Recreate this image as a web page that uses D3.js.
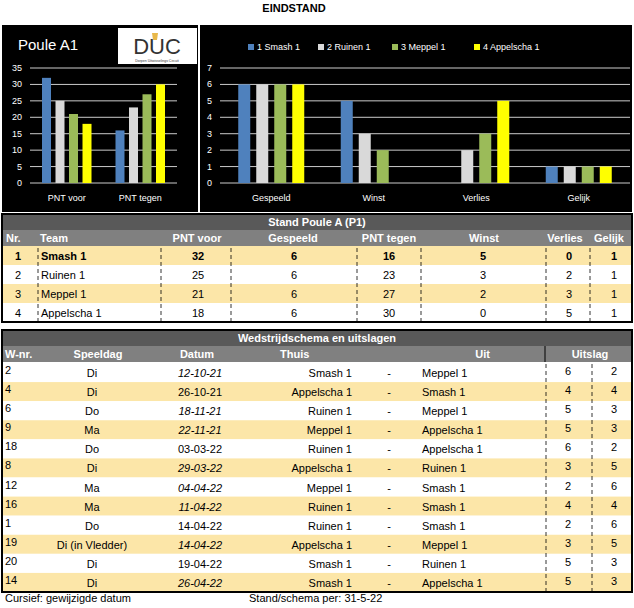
<!DOCTYPE html>
<html><head><meta charset="utf-8">
<script src="https://cdn.jsdelivr.net/npm/d3@7"></script>
<style>body{margin:0;background:#fff}svg{display:block;font-family:Arial,"Liberation Sans",sans-serif}</style>
</head><body><svg id="c" width="634" height="608"></svg>
<script>
const teams=["Smash 1","Ruinen 1","Meppel 1","Appelscha 1"];
const legendLabels=["1 Smash 1","2 Ruinen 1","3 Meppel 1","4 Appelscha 1"];
const colors=["#4f81bd","#d9d9d9","#9bbb59","#ffff00"];
const pntCats=["PNT voor","PNT tegen"];
const pntVoor=[32,25,21,18];
const pntTegen=[16,23,27,30];
const statCats=["Gespeeld","Winst","Verlies","Gelijk"];
const gespeeld=[6,6,6,6];
const winst=[5,3,2,0];
const verlies=[0,2,3,5];
const gelijk=[1,1,1,1];
const standHeaders=["Nr.","Team","PNT voor","Gespeeld","PNT tegen","Winst","Verlies","Gelijk"];
const matches=[
["2","Di","12-10-21",1,"Smash 1","Meppel 1",6,2],
["4","Di","26-10-21",0,"Appelscha 1","Smash 1",4,4],
["6","Do","18-11-21",1,"Ruinen 1","Meppel 1",5,3],
["9","Ma","22-11-21",1,"Meppel 1","Appelscha 1",5,3],
["18","Do","03-03-22",0,"Ruinen 1","Appelscha 1",6,2],
["8","Di","29-03-22",1,"Appelscha 1","Ruinen 1",3,5],
["12","Ma","04-04-22",1,"Meppel 1","Smash 1",2,6],
["16","Ma","11-04-22",1,"Ruinen 1","Smash 1",4,4],
["1","Do","14-04-22",0,"Ruinen 1","Smash 1",2,6],
["19","Di (in Vledder)","14-04-22",1,"Appelscha 1","Meppel 1",3,5],
["20","Di","19-04-22",0,"Smash 1","Ruinen 1",5,3],
["14","Di","26-04-22",1,"Smash 1","Appelscha 1",5,3]];

const svg=d3.select("#c");
svg.append("text").attr("x",294).attr("y",12).attr("text-anchor","middle").attr("font-size",11).attr("font-weight","bold").text("EINDSTAND");

svg.append("rect").attr("x",2).attr("y",25).attr("width",196).attr("height",187).attr("fill","#000");
svg.append("rect").attr("x",200).attr("y",25).attr("width",432).attr("height",187).attr("fill","#000");
svg.append("text").attr("x",18).attr("y",50).attr("fill","#fff").attr("font-size",15).text("Poule A1");
const lg=svg.append("g");
lg.append("rect").attr("x",118).attr("y",28).attr("width",79).attr("height",36).attr("fill","#fff");
lg.append("text").attr("x",157).attr("y",54).attr("text-anchor","middle").attr("font-size",22).attr("fill","#333").text("DUC");
lg.append("path").attr("d","M152,33 L158,33 L157,40 L153,40 Z").attr("fill","#e8b84a");
lg.append("text").attr("x",157).attr("y",61.5).attr("text-anchor","middle").attr("font-size",3.5).attr("fill","#333").text("Dorpen Uitwisselings Circuit");

function chart(x0,x1,max,cats,series,bw){
  const y=d3.scaleLinear().domain([0,max]).range([183,68]);
  const x=d3.scaleBand().domain(cats).range([x0,x1]);
  const g=svg.append("g");
  g.selectAll("line.g").data(y.ticks(7)).join("line").attr("x1",x0).attr("x2",x1)
   .attr("y1",d=>y(d)).attr("y2",d=>y(d)).attr("stroke","#fff").attr("stroke-width",0.8);
  g.selectAll("text.t").data(y.ticks(7)).join("text").attr("x",x0-8).attr("y",d=>y(d)+3)
   .attr("text-anchor","end").attr("fill","#fff").attr("font-size",9).text(d=>d);
  cats.forEach((c,ci)=>{
    const cx=x(c)+x.bandwidth()/2;
    series.forEach((s,si)=>{
      const v=s[ci];
      g.append("rect").attr("x",cx+(si-2)*bw*1.5+bw*0.25).attr("width",bw).attr("y",y(v)).attr("height",y(0)-y(v)).attr("fill",colors[si]);
    });
    g.append("text").attr("x",cx).attr("y",201).attr("text-anchor","middle").attr("fill","#fff").attr("font-size",9).text(c);
  });
}
chart(30,177,35,pntCats,[0,1,2,3].map(i=>[pntVoor[i],pntTegen[i]]),9);
chart(220,630,7,statCats,[0,1,2,3].map(i=>[gespeeld[i],winst[i],verlies[i],gelijk[i]]),12);
const lx=[248,318,392,474];
legendLabels.forEach((l,i)=>{
  svg.append("rect").attr("x",lx[i]).attr("y",44).attr("width",6).attr("height",6).attr("fill",colors[i]);
  svg.append("text").attr("x",lx[i]+9).attr("y",50).attr("fill","#fff").attr("font-size",9).text(l);
});

const T=svg.append("g").attr("font-size",11);
T.append("rect").attr("x",2).attr("y",214).attr("width",630).attr("height",16).attr("fill","#595959");
T.append("text").attr("x",317).attr("y",226).attr("text-anchor","middle").attr("fill","#fff").attr("font-weight","bold").text("Stand Poule A (P1)");
T.append("rect").attr("x",2).attr("y",230).attr("width",630).attr("height",16).attr("fill","#808080");
const hx=[6,40,197,293,389,484,565,609];
standHeaders.forEach((h,i)=>T.append("text").attr("x",hx[i]).attr("y",242).attr("text-anchor",i<2?"start":"middle").attr("fill","#fff").attr("font-weight","bold").text(h));
const sx=[18,41,198,294,389,483,569,614];
const rowsS=teams.map((t,i)=>[i+1,t,pntVoor[i],gespeeld[i],pntTegen[i],winst[i],verlies[i],gelijk[i]]);
const sy=d3.scaleBand().domain(d3.range(4)).range([246,322]);
rowsS.forEach((r,ri)=>{
  const yy=sy(ri);
  T.append("rect").attr("x",2).attr("y",yy).attr("width",630).attr("height",sy.bandwidth()).attr("fill",ri%2==0?"#fce6a8":"#fff");
  r.forEach((v,i)=>T.append("text").attr("x",sx[i]).attr("y",yy+14).attr("text-anchor",i==1?"start":"middle")
    .attr("font-weight",ri==0?"bold":"normal").attr("fill","#000").text(v));
});
[38,161,231,357,421,546,590].forEach(x=>T.append("line").attr("x1",x).attr("x2",x).attr("y1",248).attr("y2",321).attr("stroke","#000").attr("stroke-dasharray","4,3").attr("stroke-width",0.8));
T.append("rect").attr("x",2).attr("y",214).attr("width",630).attr("height",108).attr("fill","none").attr("stroke","#000").attr("stroke-width",2);

const S=svg.append("g").attr("font-size",11);
S.append("rect").attr("x",2).attr("y",330).attr("width",630).attr("height",16).attr("fill","#595959");
S.append("text").attr("x",317).attr("y",342).attr("text-anchor","middle").attr("fill","#fff").attr("font-weight","bold").text("Wedstrijdschema en uitslagen");
S.append("rect").attr("x",2).attr("y",346).attr("width",630).attr("height",16).attr("fill","#808080");
[["W-nr.",5,"start"],["Speeldag",98,"middle"],["Datum",197,"middle"],["Thuis",280,"start"],["Uit",490,"end"],["Uitslag",590,"middle"]]
 .forEach(h=>S.append("text").attr("x",h[1]).attr("y",358).attr("text-anchor",h[2]).attr("fill","#fff").attr("font-weight","bold").text(h[0]));
const my=d3.scaleBand().domain(d3.range(matches.length)).range([363,592]);
matches.forEach((m,ri)=>{
  const yy=my(ri),ty=yy+14;
  S.append("rect").attr("x",2).attr("y",yy).attr("width",630).attr("height",my.bandwidth()).attr("fill",ri%2==1?"#fce6a8":"#fff");
  S.append("text").attr("x",5).attr("y",ty-3).text(m[0]);
  S.append("text").attr("x",92).attr("y",ty).attr("text-anchor","middle").text(m[1]);
  S.append("text").attr("x",200).attr("y",ty).attr("text-anchor","middle").attr("font-style",m[3]?"italic":"normal").text(m[2]);
  S.append("text").attr("x",352).attr("y",ty).attr("text-anchor","end").text(m[4]);
  S.append("text").attr("x",389).attr("y",ty).attr("text-anchor","middle").text("-");
  S.append("text").attr("x",422).attr("y",ty).text(m[5]);
  S.append("text").attr("x",568).attr("y",ty-2).attr("text-anchor","middle").text(m[6]);
  S.append("text").attr("x",614).attr("y",ty-2).attr("text-anchor","middle").text(m[7]);
});
S.append("line").attr("x1",545).attr("x2",545).attr("y1",346).attr("y2",362).attr("stroke","#000");
[546,592].forEach(x=>S.append("line").attr("x1",x).attr("x2",x).attr("y1",364).attr("y2",591).attr("stroke","#000").attr("stroke-dasharray","4,3").attr("stroke-width",0.8));
S.append("rect").attr("x",2).attr("y",330).attr("width",630).attr("height",262).attr("fill","none").attr("stroke","#000").attr("stroke-width",2);

svg.append("text").attr("x",5).attr("y",602).attr("font-size",11).text("Cursief: gewijzigde datum");
svg.append("text").attr("x",249).attr("y",602).attr("font-size",11).text("Stand/schema per:  31-5-22");
</script></body></html>
